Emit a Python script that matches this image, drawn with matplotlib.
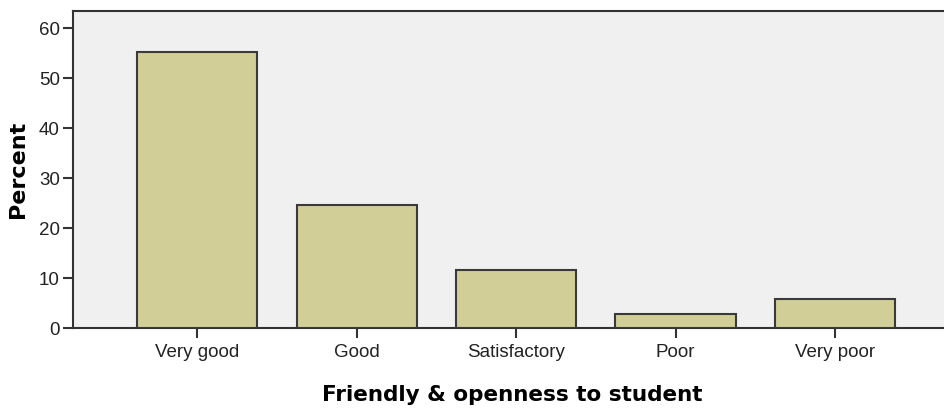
import numpy as np
import matplotlib.pyplot as plt

# Friendly & openness to student - frequency (%)
categories = ["Very good", "Good", "Satisfactory", "Poor", "Very poor"]
percent = [55.3, 24.6, 11.6, 2.9, 5.8]
y_ticks = [0, 10, 20, 30, 40, 50, 60]

fig = plt.figure(figsize=(9.45, 4.11), dpi=100)
ax_w = 1 - 73 / 945 + 0.01
ax = fig.add_axes([73 / 945, 83 / 411, ax_w, 317 / 411])
ax.set_facecolor("#F0F0F0")

x = np.arange(len(categories))
ax.bar(x, percent, width=0.755, color="#D2CE98", edgecolor="#3A3A3A", linewidth=1.5, zorder=3)

ax.set_xlim(-0.78, 4.75)
ax.set_ylim(0, 63.4)
ax.set_xticks(x)
ax.set_xticklabels(categories, fontfamily="Liberation Sans", fontsize=13.5, color="#222222")
ax.set_yticks(y_ticks)
ax.set_yticklabels([str(v) for v in y_ticks], fontfamily="Liberation Sans", fontsize=13.5, color="#222222")
ax.tick_params(axis="both", length=7.5, width=1.5, color="#333333")
ax.tick_params(axis="x", pad=4)
ax.tick_params(axis="y", pad=2)

for s in ["left", "top", "bottom"]:
    ax.spines[s].set_linewidth(1.5)
    ax.spines[s].set_color("#333333")
ax.spines["right"].set_visible(False)

ax.set_ylabel("Percent", fontsize=16, fontweight="bold", va="center")
ax.yaxis.set_label_coords(-(73 - 18) / 945 / ax_w, 0.5)
ax.set_xlabel("Friendly & openness to student", fontsize=15.5, fontweight="bold", va="center")
ax.xaxis.set_label_coords((512 - 73) / 945 / ax_w, -(395 - 328) / 317)

fig.savefig("out.png", dpi=100)
